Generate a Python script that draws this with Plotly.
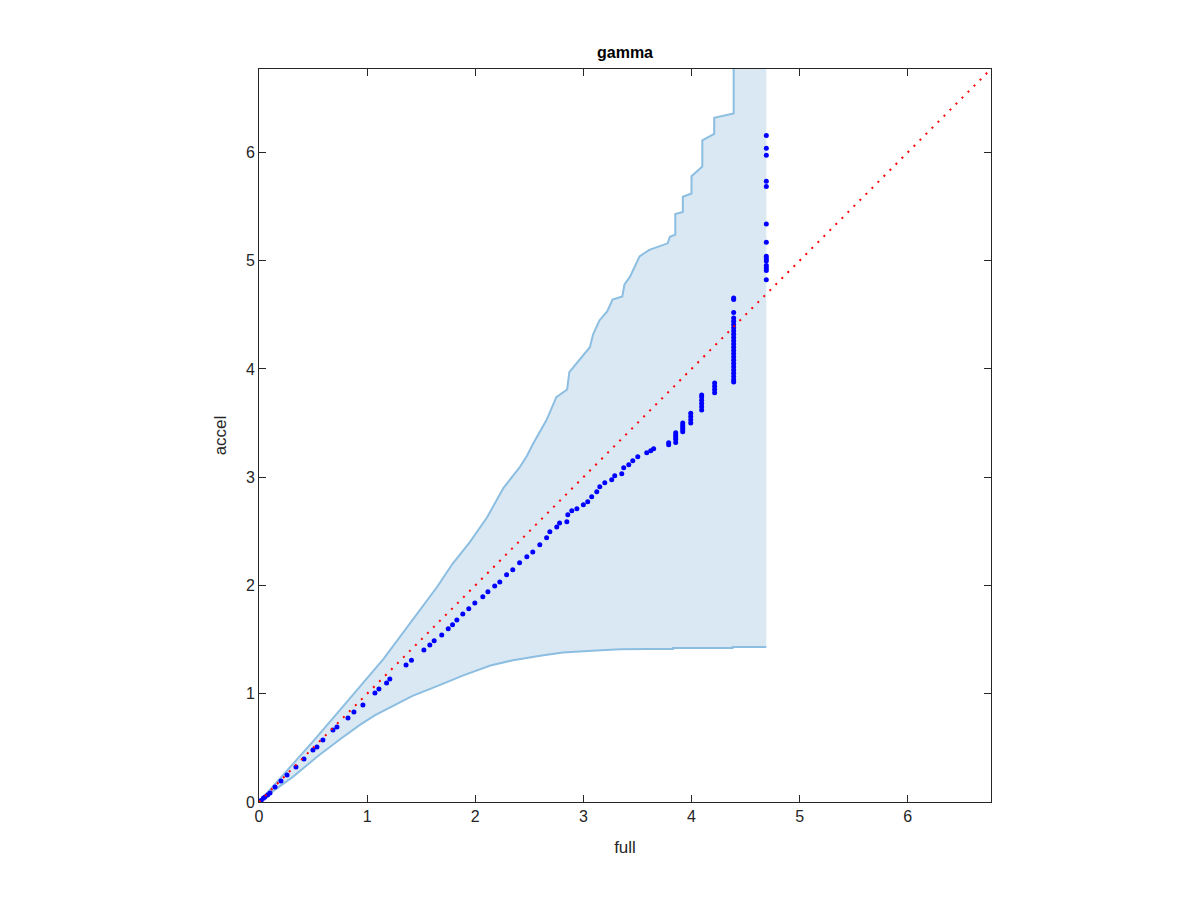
import plotly.graph_objects as go

# ---- data ----
upper_x = [0, 0.1, 0.25, 0.5, 0.75, 1.0, 1.15, 1.3, 1.49, 1.65, 1.79, 1.95, 2.11, 2.26, 2.41, 2.48,
           2.53, 2.63, 2.66, 2.75, 2.85, 2.87, 3.06, 3.09, 3.15, 3.22, 3.27, 3.36, 3.38, 3.43, 3.48,
           3.52, 3.61, 3.78, 3.80, 3.85, 3.85, 3.92, 3.92, 4.00, 4.00, 4.10, 4.10, 4.21, 4.21, 4.39, 4.39]
upper_y = [0, 0.11, 0.28, 0.56, 0.85, 1.14, 1.32, 1.52, 1.77, 1.99, 2.2, 2.4, 2.63, 2.9, 3.09, 3.2,
           3.3, 3.47, 3.53, 3.74, 3.81, 3.97, 4.2, 4.32, 4.45, 4.53, 4.64, 4.67, 4.78, 4.85, 4.96,
           5.04, 5.10, 5.16, 5.22, 5.24, 5.43, 5.45, 5.59, 5.62, 5.78, 5.87, 6.11, 6.17, 6.32, 6.36, 7.5]

lower_x = [0, 0.1, 0.31, 0.54, 0.75, 0.93, 1.07, 1.24, 1.42, 1.67, 1.89, 2.14, 2.35, 2.6, 2.81,
           3.12, 3.34, 3.6, 3.83, 3.83, 4.38, 4.38, 4.692]
lower_y = [0, 0.08, 0.23, 0.42, 0.58, 0.71, 0.80, 0.89, 0.98, 1.08, 1.17, 1.26, 1.31, 1.35, 1.38,
           1.40, 1.41, 1.414, 1.414, 1.423, 1.423, 1.432, 1.432]

band_top = 7.5

pts_x = [0, 0.02, 0.04, 0.055, 0.08, 0.102, 0.148, 0.203, 0.259, 0.342, 0.416, 0.499, 0.536, 0.591,
         0.684, 0.721, 0.823, 0.878, 0.961, 1.072, 1.109, 1.18, 1.21, 1.36, 1.41, 1.525, 1.58,
         1.62, 1.69, 1.75, 1.79, 1.83, 1.885, 1.94, 1.996, 2.07, 2.117, 2.18, 2.227, 2.29, 2.347,
         2.41, 2.477, 2.532, 2.597, 2.66, 2.69, 2.754, 2.78, 2.847, 2.856, 2.893, 2.94, 3.0, 3.04,
         3.077, 3.124, 3.152, 3.198, 3.262, 3.29, 3.355, 3.373, 3.42, 3.457, 3.503, 3.586, 3.623,
         3.65,
         3.789, 3.789,
         3.854, 3.854, 3.854, 3.854, 3.854,
         3.919, 3.919, 3.919, 3.919, 3.919,
         3.993, 3.993, 3.993, 3.993,
         4.094, 4.094, 4.094, 4.094, 4.094, 4.094,
         4.214, 4.214, 4.214, 4.214,
         4.39, 4.39, 4.39, 4.39, 4.39, 4.39, 4.39, 4.39, 4.39, 4.39, 4.39, 4.39, 4.39, 4.39,
         4.39, 4.39, 4.39, 4.39, 4.39, 4.39, 4.39, 4.39, 4.39, 4.39,
         4.692, 4.692, 4.692, 4.692, 4.692, 4.692, 4.692, 4.692, 4.692, 4.692, 4.692, 4.692,
         4.692, 4.692]
pts_y = [0, 0.015, 0.035, 0.046, 0.065, 0.083, 0.139, 0.194, 0.25, 0.323, 0.397, 0.481, 0.508, 0.573,
         0.665, 0.693, 0.776, 0.832, 0.896, 1.007, 1.044, 1.10, 1.137, 1.266, 1.31, 1.405, 1.45,
         1.49, 1.543, 1.60, 1.636, 1.682, 1.737, 1.784, 1.839, 1.895, 1.941, 1.996, 2.033, 2.098,
         2.144, 2.209, 2.264, 2.31, 2.375, 2.44, 2.495, 2.54, 2.578, 2.588, 2.652, 2.69, 2.708,
         2.745, 2.773, 2.819, 2.865, 2.911, 2.948, 2.976, 3.013, 3.031, 3.087, 3.115, 3.152, 3.189,
         3.226, 3.244, 3.262,
         3.30, 3.318,
         3.32, 3.35, 3.37, 3.39, 3.41,
         3.42, 3.44, 3.46, 3.48, 3.50,
         3.50, 3.53, 3.56, 3.59,
         3.62, 3.65, 3.68, 3.71, 3.74, 3.76,
         3.78, 3.81, 3.84, 3.87,
         4.655, 4.64, 4.52, 4.47, 4.44, 4.41, 4.38, 4.35, 4.32, 4.29, 4.26, 4.23, 4.20, 4.17,
         4.14, 4.11, 4.08, 4.05, 4.02, 3.99, 3.96, 3.93, 3.90, 3.88,
         6.155, 6.038, 5.973, 5.733, 5.684, 5.339, 5.169, 5.04, 5.018, 4.997, 4.956, 4.932,
         4.91, 4.824]

axis_max = 6.77
ref_x = [0, axis_max]
ref_y = [0, axis_max]
tick_vals = [0, 1, 2, 3, 4, 5, 6]
tick_text = ["0", "1", "2", "3", "4", "5", "6"]

band_fill = "rgb(218,232,244)"
band_line = "rgb(140,190,225)"
axis_col = "#262626"
font_fam = "Liberation Sans, Arial, sans-serif"

fig = go.Figure()

# band polygon
poly_x = upper_x + [lower_x[-1], lower_x[-1]] + lower_x[::-1]
poly_y = upper_y + [band_top, lower_y[-1]] + lower_y[::-1]
fig.add_trace(go.Scatter(x=poly_x, y=poly_y, mode="lines", fill="toself",
                         fillcolor=band_fill, line=dict(width=0), hoverinfo="skip",
                         showlegend=False))
fig.add_trace(go.Scatter(x=upper_x, y=upper_y, mode="lines",
                         line=dict(color=band_line, width=2), showlegend=False))
fig.add_trace(go.Scatter(x=lower_x, y=lower_y, mode="lines",
                         line=dict(color=band_line, width=2), showlegend=False))
fig.add_trace(go.Scatter(x=pts_x, y=pts_y, mode="markers",
                         marker=dict(color="rgb(0,0,255)", size=5, line=dict(width=0)),
                         showlegend=False))
fig.add_trace(go.Scatter(x=ref_x, y=ref_y, mode="lines",
                         line=dict(color="rgb(255,0,0)", width=2, dash="2px,6.5px"),
                         showlegend=False))

axis_common = dict(range=[0, axis_max], tickmode="array", tickvals=tick_vals, ticktext=tick_text,
                   ticks="inside", ticklen=7, tickwidth=1, tickcolor=axis_col,
                   showline=True, linecolor=axis_col, linewidth=1, mirror="ticks",
                   showgrid=False, zeroline=False,
                   tickfont=dict(family=font_fam, size=16, color=axis_col))

fig.update_xaxes(**axis_common, title=dict(text="full", standoff=16,
                 font=dict(family=font_fam, size=17, color=axis_col)))
fig.update_yaxes(**axis_common, title=dict(text="accel", standoff=14,
                 font=dict(family=font_fam, size=17, color=axis_col)))

fig.update_layout(
    width=1200, height=900,
    margin=dict(l=251, r=217, t=61, b=106),
    paper_bgcolor="white", plot_bgcolor="white",
    title=dict(text="<b>gamma</b>", x=0.5, xref="paper", xanchor="center",
               y=1 - 44 / 900, yanchor="middle",
               font=dict(family=font_fam, size=16, color="black")),
    showlegend=False,
)

fig.write_html("out.html")
